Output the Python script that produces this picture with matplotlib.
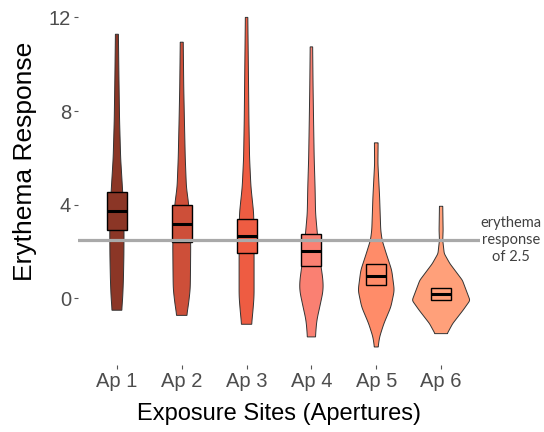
import numpy as np
import matplotlib
matplotlib.use("Agg")
import matplotlib.pyplot as plt
from matplotlib.patches import Rectangle

# ---------------- data ----------------
sites = ["Ap 1", "Ap 2", "Ap 3", "Ap 4", "Ap 5", "Ap 6"]
colors = ["#8B3626", "#CD4F39", "#EE5C42", "#FA8072", "#FF8C69", "#FFA07A"]

# box-plot statistics
q1 = [2.92, 2.41, 1.95, 1.40, 0.58, -0.09]
median = [3.73, 3.19, 2.66, 2.00, 0.95, 0.17]
q3 = [4.53, 4.00, 3.39, 2.73, 1.45, 0.44]

# violin profiles: response levels and full violin widths (x units) at them
ap1_y = [11.28, 9.5, 7.61, 6.0, 4.76, 4.0, 2.9, 1.8, 0.77, 0.06, -0.51]
ap1_w = [0.046, 0.062, 0.082, 0.115, 0.169, 0.200, 0.220, 0.215, 0.200, 0.180, 0.149]
ap2_y = [10.94, 9.0, 7.61, 6.0, 4.76, 4.0, 2.35, 1.06, 0.4, -0.23, -0.73]
ap2_w = [0.046, 0.062, 0.082, 0.108, 0.143, 0.215, 0.277, 0.269, 0.262, 0.211, 0.154]
ap3_y = [12.0, 10.0, 7.61, 6.0, 4.76, 3.62, 1.91, 0.77, 0.06, -0.65, -1.11]
ap3_w = [0.038, 0.054, 0.072, 0.092, 0.134, 0.220, 0.231, 0.231, 0.231, 0.189, 0.154]
ap4_y = [10.74, 9.0, 7.61, 6.0, 4.76, 3.62, 2.5, 1.41, 0.77, 0.34, -0.37, -0.94, -1.65]
ap4_w = [0.038, 0.051, 0.066, 0.085, 0.112, 0.128, 0.200, 0.292, 0.358, 0.365, 0.257, 0.165, 0.123]
ap5_y = [6.64, 5.75, 4.33, 2.91, 2.48, 1.91, 1.2, 0.34, -0.37, -1.08, -1.65, -2.08]
ap5_w = [0.057, 0.051, 0.103, 0.138, 0.180, 0.308, 0.477, 0.558, 0.451, 0.235, 0.103, 0.057]
ap6_y = [3.93, 2.91, 2.48, 1.91, 1.48, 0.77, -0.09, -0.51, -1.08, -1.51]
ap6_w = [0.051, 0.062, 0.051, 0.097, 0.272, 0.657, 0.892, 0.677, 0.358, 0.189]

profiles_y = [ap1_y, ap2_y, ap3_y, ap4_y, ap5_y, ap6_y]
profiles_w = [ap1_w, ap2_w, ap3_w, ap4_w, ap5_w, ap6_w]

threshold = 2.5
y_ticks = [0, 4, 8, 12]
annotation = "erythema\nresponse\nof 2.5"

# ---------------- figure ----------------
fig = plt.figure(figsize=(5.44, 4.32), dpi=100)
fig.patch.set_facecolor("white")
ax = fig.add_axes([78 / 544, 1 - 365 / 432, 402 / 544, 364 / 432])

label_font = "Liberation Sans"


def smooth_profile(ys, ws, k):
    ys = np.asarray(ys, float)
    ws = np.asarray(ws, float)
    order = np.argsort(ys)
    ys, ws = ys[order], ws[order]
    grid = np.linspace(ys[0], ys[-1], 400)
    wf = np.interp(grid, ys, ws)
    pad = np.pad(wf, k, mode="edge")
    kern = np.hanning(2 * k + 1)
    kern /= kern.sum()
    sm = np.convolve(pad, kern, mode="same")[k:-k]
    return grid, sm


smooth_k = [15, 15, 15, 15, 14, 10]

for i, (ys, ws, col) in enumerate(zip(profiles_y, profiles_w, colors)):
    xc = i + 1
    gy, gw = smooth_profile(ys, ws, smooth_k[i])
    xs = np.concatenate([xc - gw / 2, (xc + gw / 2)[::-1]])
    yy = np.concatenate([gy, gy[::-1]])
    ax.fill(xs, yy, facecolor=col, edgecolor="#333333", linewidth=0.7, zorder=2)
    bw = 0.31
    ax.add_patch(Rectangle((xc - bw / 2, q1[i]), bw, q3[i] - q1[i],
                           facecolor=col, edgecolor="black", linewidth=1.0, zorder=3))
    ax.plot([xc - bw / 2, xc + bw / 2], [median[i], median[i]], color="black",
            linewidth=2.2, solid_capstyle="butt", zorder=4)

ax.axhline(threshold, color="#A9A9A9", linewidth=2.3, zorder=5)

ax.set_xlim(0.4, 6.6)
ax.set_ylim(-2.85, 12.7)
ax.set_xticks(range(1, 7))
ax.set_xticklabels(sites)
ax.set_yticks(y_ticks)
ax.set_yticklabels([str(t) for t in y_ticks])
for s in ax.spines.values():
    s.set_visible(False)
ax.tick_params(axis="both", length=3, width=0.8, color="#555555",
               labelcolor="#4D4D4D", labelsize=14.5, pad=2)
for lab in ax.get_xticklabels() + ax.get_yticklabels():
    lab.set_fontfamily(label_font)

ax.set_xlabel("Exposure Sites (Apertures)", fontsize=17, family=label_font,
              color="black", labelpad=9)
fig.text(25 / 544, 1 - 161 / 432, "Erythema Response", rotation=90,
         ha="center", va="center", fontsize=19, family=label_font, color="black")

ax.text(7.08, 2.5, annotation, ha="center", va="center", fontsize=10.5,
        family="Lato", color="#404040", linespacing=1.25, clip_on=False)

fig.savefig("out.png", dpi=100, facecolor="white")
